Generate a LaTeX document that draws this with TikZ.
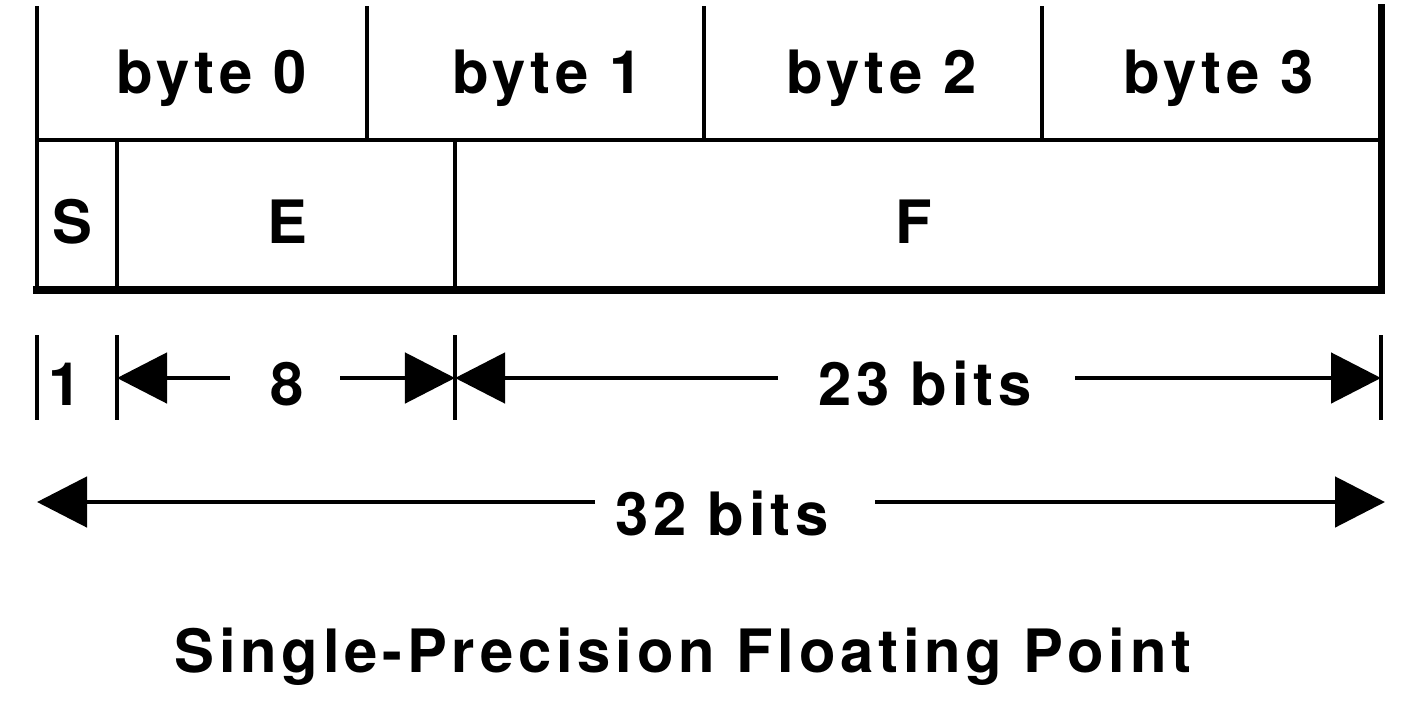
\documentclass[tikz,border=0pt]{standalone}
\usepackage{fontspec}
\newfontfamily\lblfont{TeX Gyre Heros}[LetterSpace=8]
\usetikzlibrary{arrows.meta}
\begin{document}
\begin{tikzpicture}[x=0.01cm,y=-0.01cm,
  cell/.style={line width=1pt, line cap=rect},
  border/.style={line width=2pt, line cap=rect},
  tick/.style={line width=0.9pt},
  dimarrow/.style={line width=1.4pt, -{Triangle[length=0.5cm,width=0.5cm]}},
  lbl/.style={font=\lblfont\bfseries\fontsize{17}{20}\selectfont, inner sep=0pt, anchor=base}]
\useasboundingbox (0,0) rectangle (1407,700);
\fill[white] (0,0) rectangle (1407,700);
% table
\draw[cell] (37,8) -- (37,290);
\draw[cell] (37,140) -- (1381,140);
\draw[cell] (367,8) -- (367,140);
\draw[cell] (704,8) -- (704,140);
\draw[cell] (1042,8) -- (1042,140);
\draw[cell] (117,140) -- (117,290);
\draw[cell] (455,140) -- (455,290);
\draw[border] (37,290) -- (1381,290) -- (1381,8);
% labels
\node[lbl] (b0) at (212,93) {byte 0};
\node[lbl] (b1) at (548,93) {byte 1};
\node[lbl] (b2) at (882,93) {byte 2};
\node[lbl] (b3) at (1219,93) {byte 3};
\node[lbl] (s) at (72,243) {S};
\node[lbl] (e) at (287,243) {E};
\node[lbl] (f) at (914,243) {F};
% dimension ticks
\draw[tick] (37,335) -- (37,420);
\draw[tick] (117,335) -- (117,420);
\draw[tick] (455,335) -- (455,420);
\draw[tick] (1381,335) -- (1381,420);
\coordinate (d1) at (117,378);
\coordinate (d2) at (455,378);
\coordinate (d3) at (1381,378);
\node[lbl] (one) at (65,405) {1};
\node[lbl] (eight) at (287,405) {8};
\node[lbl] (twentythree) at (925,405) {23 bits};
\coordinate (e8l) at (230,378);
\coordinate (e8r) at (340,378);
\coordinate (e23l) at (778,378);
\coordinate (e23r) at (1075,378);
\draw[dimarrow] (e8l) -- (d1);
\draw[dimarrow] (e8r) -- (d2);
\draw[dimarrow] (e23l) -- (d2);
\draw[dimarrow] (e23r) -- (d3);
% 32 bits
\coordinate (w0) at (37,502);
\coordinate (w1) at (1385,502);
\coordinate (e32l) at (595,502);
\coordinate (e32r) at (875,502);
\node[lbl] (thirtytwo) at (722,535) {32 bits};
\draw[dimarrow] (e32l) -- (w0);
\draw[dimarrow] (e32r) -- (w1);
% title
\node[lbl] (title) at (683,672) {Single-Precision Floating Point};
\end{tikzpicture}
\end{document}
